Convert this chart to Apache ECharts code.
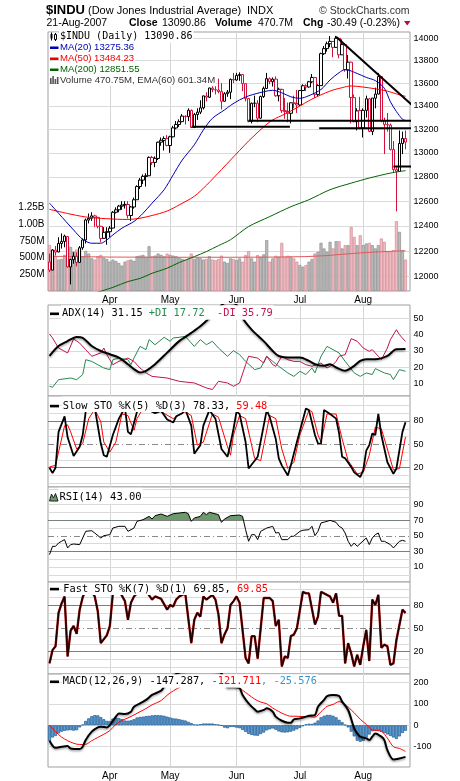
<!DOCTYPE html>
<html>
<head>
<meta charset="utf-8">
<script src="https://cdn.jsdelivr.net/npm/echarts@6/dist/echarts.min.js"></script>
<style>
  html, body { margin: 0; padding: 0; background: #fff; }
  #chart { width: 460px; height: 781px; }
</style>
</head>
<body>
<div id="chart"></div>
<script>
// ---- data ----
const dates = [
  '2007-03-05','2007-03-06','2007-03-07','2007-03-08','2007-03-09','2007-03-12','2007-03-13','2007-03-14','2007-03-15','2007-03-16',
  '2007-03-19','2007-03-20','2007-03-21','2007-03-22','2007-03-23','2007-03-26','2007-03-27','2007-03-28','2007-03-29','2007-03-30',
  '2007-04-02','2007-04-03','2007-04-04','2007-04-05','2007-04-09','2007-04-10','2007-04-11','2007-04-12','2007-04-13','2007-04-16',
  '2007-04-17','2007-04-18','2007-04-19','2007-04-20','2007-04-23','2007-04-24','2007-04-25','2007-04-26','2007-04-27','2007-04-30',
  '2007-05-01','2007-05-02','2007-05-03','2007-05-04','2007-05-07','2007-05-08','2007-05-09','2007-05-10','2007-05-11','2007-05-14',
  '2007-05-15','2007-05-16','2007-05-17','2007-05-18','2007-05-21','2007-05-22','2007-05-23','2007-05-24','2007-05-25','2007-05-29',
  '2007-05-30','2007-05-31','2007-06-01','2007-06-04','2007-06-05','2007-06-06','2007-06-07','2007-06-08','2007-06-11','2007-06-12',
  '2007-06-13','2007-06-14','2007-06-15','2007-06-18','2007-06-19','2007-06-20','2007-06-21','2007-06-22','2007-06-25','2007-06-26',
  '2007-06-27','2007-06-28','2007-06-29','2007-07-02','2007-07-03','2007-07-05','2007-07-06','2007-07-09','2007-07-10','2007-07-11',
  '2007-07-12','2007-07-13','2007-07-16','2007-07-17','2007-07-18','2007-07-19','2007-07-20','2007-07-23','2007-07-24','2007-07-25',
  '2007-07-26','2007-07-27','2007-07-30','2007-07-31','2007-08-01','2007-08-02','2007-08-03','2007-08-06','2007-08-07','2007-08-08',
  '2007-08-09','2007-08-10','2007-08-13','2007-08-14','2007-08-15','2007-08-16','2007-08-17','2007-08-20','2007-08-21'
];
const monthIdx = [20, 40, 62, 83, 104];
const monthNames = ['Apr', 'May', 'Jun', 'Jul', 'Aug'];

const opens = [
  12114,12051,12207,12193,12260,12276,12315,12075,12133,12159,12111,12226,12288,12447,12461,12481,12469,12397,12301,12349,
  12354,12383,12510,12530,12560,12569,12573,12484,12553,12612,12720,12773,12803,12809,12961,12920,12953,13090,13105,13120,
  13062,13136,13211,13241,13265,13312,13308,13362,13215,13326,13347,13384,13487,13476,13556,13542,13539,13526,13441,13507,13520,13633,
  13627,13667,13676,13595,13465,13267,13424,13424,13295,13482,13553,13639,13612,13635,13489,13545,13360,13352,13337,13427,13422,
  13409,13535,13577,13566,13611,13649,13501,13578,13861,13907,13951,13971,13918,14000,13851,13943,13716,13785,13473,13265,13360,
  13211,13362,13462,13181,13468,13504,13657,13270,13240,13236,13028,12860,12845,13079,13121
];
const closes = [
  12050,12208,12192,12261,12276,12319,12076,12133,12160,12110,12226,12288,12448,12461,12481,12469,12397,12300,12349,12354,
  12382,12510,12530,12560,12569,12574,12485,12553,12612,12720,12773,12804,12809,12962,12919,12954,13090,13106,13121,13063,
  13136,13212,13241,13265,13313,13309,13363,13215,13326,13347,13384,13488,13477,13557,13543,13540,13526,13441,13507,13521,13633,13628,
  13668,13676,13595,13466,13267,13424,13425,13295,13482,13554,13639,13613,13635,13489,13546,13360,13352,13338,13428,13422,13409,
  13535,13577,13566,13612,13650,13502,13578,13862,13907,13951,13972,13918,14000,13851,13943,13717,13785,13474,13265,13358,13212,
  13362,13463,13182,13469,13504,13658,13271,13240,13237,13029,12861,12846,13079,13121,13090.86
];
const highs = [
  12180,12215,12240,12310,12340,12330,12320,12140,12190,12190,12240,12300,12460,12500,12510,12490,12470,12400,12390,12390,
  12400,12520,12550,12570,12600,12600,12600,12560,12630,12730,12790,12820,12830,12970,12975,12970,13095,13130,13140,13150,
  13145,13230,13270,13285,13330,13320,13380,13370,13340,13380,13450,13490,13520,13560,13600,13580,13640,13600,13520,13540,13640,13690,
  13690,13695,13680,13600,13470,13430,13490,13450,13490,13570,13690,13650,13650,13660,13560,13550,13470,13430,13430,13490,13540,
  13540,13590,13590,13620,13680,13650,13590,13870,13930,13970,14020,13975,14022,14001,13990,13950,13850,13790,13500,13380,13480,
  13380,13490,13470,13470,13560,13690,13657,13300,13340,13250,13100,12880,13190,13180,13190
];
const lows = [
  12035,12050,12165,12190,12220,12230,12070,11940,12100,12080,12110,12210,12260,12420,12440,12390,12380,12270,12300,12250,
  12310,12380,12500,12510,12530,12540,12460,12440,12540,12612,12700,12740,12720,12808,12900,12880,12940,13060,13020,13055,
  13000,13130,13200,13220,13260,13240,13270,13210,13210,13280,13330,13370,13440,13470,13520,13500,13510,13370,13440,13480,13460,13600,
  13620,13620,13530,13440,13260,13250,13390,13260,13290,13470,13550,13590,13570,13480,13440,13340,13290,13260,13250,13380,13340,
  13400,13530,13530,13560,13600,13470,13480,13577,13850,13880,13920,13830,13915,13820,13850,13700,13640,13250,13260,13190,13200,
  13130,13300,13175,13150,13380,13500,13260,12990,13180,13020,12840,12517,12840,12990,13030
];
// volume in millions
const volume = [
  690,620,520,470,480,540,720,660,590,620, 640,520,600,560,490,470,520,540,500,480,
  440,470,450,420,380,440,460,470,450,520, 530,540,510,670,520,530,560,540,520,560,
  540,530,520,500,480,470,480,560,480,500, 490,470,480,520,470,460,480,530,440,420,
  488,478,463,488,439,538,597,488,439,538, 513,548,761,439,488,528,513,721,513,528,
  513,488,439,389,364,389,439,478,562,587, 721,637,587,736,637,746,746,637,686,686,
  958,810,686,835,686,711,721,686,637,686, 786,736,587,587,612,1045,885,612,470.75
];
const volEma = [[0,520],[20,508],[40,505],[60,505],[75,508],[85,515],[92,530],[97,550],[103,570],[110,588],[114,596],[118,601.34]];

const ma20 = [[0,12584],[3,12502],[8,12367],[11,12293],[14,12262],[17,12262],[19,12288],[21,12328],[24,12382],[28,12436],[31,12502],
  [34,12584],[38,12694],[41,12817],[44,12940],[48,13068],[51,13194],[54,13294],[58,13366],[60,13405],[63,13453],[66,13488],[71,13524],
  [74,13537],[77,13515],[80,13480],[83,13467],[86,13490],[90,13544],[93,13628],[96,13692],[98,13720],[102,13685],[105,13650],[108,13622],
  [111,13555],[113,13437],[115,13352],[117,13286],[118,13275.36]];
const ma50 = [[0,12534],[6,12500],[12,12472],[19,12458],[26,12452],[30,12462],[34,12484],[39,12520],[43,12570],[48,12640],[52,12730],
  [57,12860],[60,12940],[63,13020],[66,13100],[71,13220],[74,13280],[78,13330],[82,13385],[87,13460],[93,13530],[97,13560],[100,13575],
  [104,13565],[108,13550],[112,13530],[115,13505],[118,13484.23]];
const ma200 = [[15,11872],[21,11917],[26,11962],[30,11986],[34,12026],[39,12066],[43,12110],[48,12156],[52,12196],[56,12243],[60,12290],
  [66,12395],[73,12475],[80,12555],[86,12612],[93,12694],[100,12748],[106,12790],[113,12831],[118,12851.55]];
const trendLines = [
  [[95, 14014], [124.5, 13307]],
  [[65.9, 13273], [120.6, 13273]],
  [[47.1, 13222], [79.7, 13222]],
  [[89.4, 13209], [125, 13209]],
  [[114, 12885], [125, 12885]]
];
const priceTicks = [12000, 12200, 12400, 12600, 12800, 13000, 13200, 13400, 13600, 13800, 14000];

const adx = [[0,27],[3,33],[6,36],[9,38.5],[11,38],[14,33],[17,30],[20,28],[23,26],[26,22],[28,19],[30,17],[32,18],[35,22],[39,29],
  [43,36],[47,41],[50,45],[53,50],[56,56],[59,60],[62,58],[64,50],[67,43],[71,36],[74,30],[76,27],[80,26],[83,26],[86,24],[88,22],
  [91,21],[93,22],[95,20],[98,18],[101,21],[103,24],[105,25],[108,25],[112,27],[115,31],[118,31.15]];
const diPlus = [[0,8.6],[1,8],[3,12.6],[7,13.6],[9,12.6],[11,15.7],[12,24.7],[14,23.7],[16,21.7],[18,19.7],[20,18.7],[21,24.7],[23,25.7],
  [26,24.7],[27,21.7],[28,25.7],[30,32.8],[32,30.8],[33,36.9],[35,33.8],[38,38.3],[40,35.9],[41,37.9],[43,38.3],[45,38.9],[48,32.8],
  [50,36.9],[52,33.8],[54,35.9],[56,31.8],[59,26.8],[61,30.2],[63,27.8],[65,23.7],[68,18.7],[70,19.7],[72,26.8],[74,23.7],[76,20.7],
  [79,16.7],[81,14.6],[83,17.7],[85,15.7],[87,19.7],[88,16.7],[90,26.8],[92,32.8],[94,30.8],[96,28.8],[98,23.7],[101,16.7],[103,14.6],
  [105,16.7],[107,15.7],[108,19.3],[111,16.7],[113,15.7],[114,12.6],[116,18.7],[118,17.72]];
const diMinus = [[0,40.3],[1,37.9],[3,31.8],[6,28.8],[8,37.3],[10,34.8],[12,30.8],[14,26.8],[17,28.8],[18,31.8],[19,27.8],[21,21.7],
  [23,23.7],[26,25.7],[28,23.7],[30,19.7],[32,16.7],[34,14.6],[39,13.6],[43,11.6],[48,10.6],[52,7.6],[54,6.6],[56,11.6],[59,10.6],
  [61,8.6],[63,10.6],[65,21.7],[66,26.8],[69,25.7],[71,22.7],[72,26.8],[74,21.7],[75,20.7],[77,26.8],[79,24.7],[81,23.7],[83,23.7],
  [85,21.7],[87,20.7],[90,22.7],[92,19.7],[94,21.7],[95,23.7],[96,26.8],[98,27.8],[100,37.5],[102,35.9],[104,31.8],[106,29.8],
  [107,30.8],[109,26.8],[110,24.7],[112,31.8],[113,36.9],[115,42.9],[116,39.9],[118,35.79]];

const stoK = [[0,20],[1,13],[2,20],[3,66],[5,86],[6,59],[8,35],[10,47],[11,62],[12,92],[13,98],[15,97],[17,51],[18,36],[19,34],[21,62],
  [23,83],[25,97],[26,66],[27,63],[29,92],[31,97],[33,94],[35,90],[37,93],[39,82],[41,78],[42,86],[44,90],[45,95],[47,74],[48,38],
  [50,49],[51,74],[53,94],[55,83],[57,44],[59,34],[60,51],[61,70],[62,92],[63,89],[65,53],[66,19],[68,29],[69,34],[72,94],[73,85],
  [75,57],[76,32],[77,23],[79,10],[80,23],[82,53],[85,96],[86,94],[88,62],[89,51],[90,51],[91,94],[93,89],[95,83],[96,64],[97,34],
  [98,32],[100,21],[101,14],[103,8],[104,17],[105,42],[106,49],[107,64],[108,62],[109,89],[110,62],[112,27],[114,12],[115,19],[117,66],[118,78.33]];
const stoD = [[0,21],[2,23],[5,74],[6,75],[7,66],[9,44],[11,51],[13,83],[15,95],[17,79],[18,53],[20,40],[22,53],[24,89],[26,87],[28,68],
  [29,83],[31,96],[37,92],[41,83],[45,92],[47,87],[49,49],[51,53],[54,89],[56,85],[59,47],[60,36],[61,62],[63,87],[65,83],[68,32],
  [70,29],[73,87],[75,83],[77,44],[79,19],[81,27],[83,62],[86,94],[87,92],[89,62],[90,53],[92,89],[95,89],[97,57],[99,29],[102,12],
  [104,14],[106,36],[108,72],[110,70],[112,44],[114,17],[116,19],[118,59.48]];

const rsi = [[0,25.8],[1,36.5],[2,36.5],[3,40.8],[4,43],[5,45.1],[6,34.4],[7,38.7],[8,39.5],[10,38.7],[11,47.2],[12,55.8],[14,56.6],
  [15,53.6],[17,47.2],[18,50.2],[20,51.5],[21,60],[23,62.2],[25,62.2],[26,55.8],[28,60],[29,68.6],[31,70.7],[33,75],[34,71.6],[35,75.9],
  [37,78],[39,75],[41,78.4],[43,79.3],[45,80.2],[46,78.4],[47,68.6],[48,72.9],[50,75],[51,80.2],[52,77.2],[53,80.2],[56,77.2],[57,67.3],
  [58,71.6],[60,75.9],[63,76.7],[64,75],[65,57.9],[66,43],[67,51.5],[68,51.5],[69,45.1],[70,55.8],[72,60],[74,62.2],[75,53.6],[76,54.3],
  [77,45.1],[79,45.1],[80,49.4],[81,49.4],[83,55.8],[84,57.1],[86,57.9],[87,62.2],[88,50.2],[89,55.8],[90,66.5],[92,68.6],[93,69.9],
  [95,67.3],[96,62.2],[97,60],[98,53.6],[99,43],[100,36.5],[101,40.8],[102,36.5],[105,47.2],[106,38.7],[107,47.2],[108,51.5],[109,53.6],
  [110,43],[111,43],[113,38.7],[114,34.4],[116,43],[117,44.2],[118,43]];

const fastK = [[0,5],[1,22],[2,27],[3,70],[4,82],[5,91],[6,14],[7,47],[8,53],[9,43],[10,74],[11,90],[12,99],[14,97],[15,91],[16,72],
  [17,31],[19,41],[20,53],[21,95],[23,99],[25,85],[26,61],[27,83],[28,91],[30,99],[32,98],[34,87],[35,91],[37,88],[39,74],[40,80],
  [41,78],[42,87],[43,91],[45,95],[47,31],[48,61],[49,70],[50,65],[51,91],[52,87],[54,93],[55,87],[56,68],[57,31],[58,42],[59,50],
  [60,80],[61,85],[62,91],[63,83],[65,12],[66,5],[67,40],[68,40],[69,11],[71,89],[73,89],[74,85],[75,53],[76,61],[77,1],[78,14],
  [79,12],[80,40],[81,42],[82,50],[84,97],[85,95],[86,95],[88,55],[89,65],[90,97],[91,95],[93,91],[94,83],[95,95],[96,66],[97,66],
  [98,5],[99,31],[100,18],[101,1],[102,16],[103,3],[104,27],[105,48],[106,8],[107,87],[108,80],[109,93],[110,25],[111,29],[112,27],
  [113,3],[114,5],[115,35],[117,74],[118,69.85]];

const macd = [[0,-72],[2,-105],[4,-100],[6,-97],[7,-108],[10,-111],[11,-100],[12,-69],[14,-30],[16,-10],[17,-7],[19,-10],[20,1],[22,40],
  [23,55],[25,52],[27,63],[28,86],[30,102],[32,118],[34,141],[37,161],[38,180],[39,198],[41,230],[44,250],[50,262],[54,258],[57,242],
  [59,177],[61,177],[63,172],[64,141],[66,102],[68,74],[69,63],[71,71],[72,79],[74,63],[75,40],[77,21],[79,12],[80,12],[81,27],[83,32],
  [85,40],[86,44],[88,48],[89,86],[91,118],[92,136],[94,141],[96,136],[97,110],[99,71],[101,-15],[102,-38],[103,-53],[105,-61],[106,-69],
  [107,-53],[108,-38],[110,-53],[111,-69],[112,-116],[114,-159],[116,-155],[118,-147.287]];
const signal = [[0,1],[2,-30],[4,-55],[6,-72],[8,-84],[10,-90],[12,-89],[14,-72],[16,-57],[18,-42],[20,-25],[22,4],[24,22],[26,34],
  [28,48],[30,63],[32,78],[34,95],[37,115],[39,140],[41,160],[44,183],[47,200],[51,212],[55,215],[58,205],[61,190],[63,175],[64,163],
  [66,142],[68,122],[70,108],[72,100],[74,80],[76,64],[78,50],[80,42],[82,42],[84,40],[86,40],[88,38],[90,63],[92,88],[94,97],[96,110],
  [98,98],[99,85],[101,58],[103,28],[105,4],[107,-22],[110,-28],[112,-60],[114,-100],[116,-108],[118,-121.711]];
const hist = [
  -73,-57,-50,-38,-30,-26,-24,-23,-25,-23, -10,3,20,32,42,47,46,38,28,20,
  20,31,36,33,29,22,21,23,28,36, 39,40,43,44,46,47,47,46,44,40,
  36,32,31,28,25,22,16,10,4,2, 5,8,8,8,8,5,2,-2,-11,-14,
  -8,-8,-11,-14,-22,-31,-40,-45,-48,-49, -41,-34,-24,-19,-15,-21,-29,-33,-34,-33,
  -30,-25,-19,-12,-4,4,7,6,12,22, 37,44,48,48,44,37,25,14,2,-10,
  -30,-52,-72,-77,-73,-58,-43,-28,-23,-25, -31,-36,-43,-50,-57,-64,-52,-36,-25.576
];

// ---- chart ----
const RED = '#d3123c';
const GREEN_DI = '#268a50';
const RED_DI = '#c0144a';
const AXIS_FONT = 'Liberation Sans';
const MONO = '"DejaVu Sans Mono"';
const cats = dates.concat(['']);

const candleData = closes.map((c, i) => {
  const prev = i ? closes[i - 1] : opens[0];
  const col = c >= prev ? '#000' : RED;
  return {
    value: [opens[i], c, lows[i], highs[i]],
    itemStyle: { color: '#fff', color0: col, borderColor: col, borderColor0: col }
  };
});
const volData = volume.map((v, i) => {
  const prev = i ? closes[i - 1] : opens[0];
  const up = closes[i] >= prev;
  return {
    value: v,
    itemStyle: up ? { color: '#bcbcbc', borderColor: '#8e8e8e' } : { color: '#efbcc2', borderColor: '#d48b95' }
  };
});

const lineStyles = {
  light: { color: '#dadada', width: 1, type: 'solid' },
  dark: { color: '#7d7d7d', width: 1, type: 'solid' },
  dash: { color: '#8a8a8a', width: 1, type: [6, 3, 1, 3] }
};
function levels(list) {
  return {
    silent: true, symbol: ['none', 'none'], z: 1, animation: false,
    data: list.map(([v, kind, lab]) => ({
      yAxis: v,
      lineStyle: lineStyles[kind],
      label: { show: lab, position: 'end', formatter: String(v), distance: 3.5, color: '#000', fontSize: 9, fontFamily: AXIS_FONT }
    }))
  };
}
const stoLevels = [[0,'light',false],[10,'light',false],[30,'light',false],[40,'light',false],[60,'light',false],
  [70,'light',false],[90,'light',false],[100,'light',false],[20,'dark',true],[80,'dark',true],[50,'dash',true]];
const rsiLevels = [[0,'light',false],[10,'light',true],[20,'light',false],[40,'light',false],[60,'light',false],[80,'light',false],
  [90,'light',true],[100,'light',false],[110,'light',false],[30,'dark',true],[70,'dark',true],[50,'dash',true]];

const isMonth = (i) => monthIdx.indexOf(i) >= 0;
function catAxis(g, labels, grid) {
  return {
    type: 'category', gridIndex: g, data: cats, boundaryGap: true,
    axisLine: { show: false }, axisTick: { show: false },
    axisLabel: labels ? {
      show: true, interval: isMonth, formatter: (v, i) => monthNames[monthIdx.indexOf(i)] || '',
      color: '#000', fontSize: 10, fontFamily: AXIS_FONT, margin: 4
    } : { show: false },
    splitLine: { show: grid !== false, interval: isMonth, alignWithLabel: true, lineStyle: { color: '#d6d6d6', width: 1 } }
  };
}
function valAxis(g, min, max) {
  return { type: 'value', gridIndex: g, min, max, show: false, splitLine: { show: false } };
}
const gridBase = { left: 48, width: 362, show: true, borderColor: '#9f9f9f', borderWidth: 1, backgroundColor: '#fff' };

function pl(name, data, x, y, color, width, extra) {
  return Object.assign({
    name, type: 'line', xAxisIndex: x, yAxisIndex: y, data, showSymbol: false, symbol: 'none',
    lineStyle: { color, width }, itemStyle: { color }, z: 3, animation: false
  }, extra || {});
}
const shadow = { shadowColor: 'rgba(0,0,0,0.35)', shadowBlur: 2, shadowOffsetY: 1.5 };

// ---- texts ----
const G = [];
function addText(x, y, text, font, fill, bg) {
  const st = { x, y, text, font, fill, verticalAlign: 'middle', align: 'left' };
  if (bg) { st.backgroundColor = '#fff'; st.padding = [1, 1, 1, 1]; }
  G.push({ type: 'text', z: 100, style: st });
}
function addRich(x, y, text, font, rich, padTop) {
  // extra top padding lets the white box reach the panel border; y is shifted to keep the text in place
  G.push({ type: 'text', z: 100, style: {
    x, y: y - padTop / 2, text, font, rich, verticalAlign: 'middle', backgroundColor: '#fff', padding: [1 + padTop, 1, 1, 1]
  } });
}
function addRect(x, y, w, h, fill, stroke) {
  G.push({ type: 'rect', z: 101, shape: { x, y, width: w, height: h }, style: { fill, stroke: stroke || null, lineWidth: 1 } });
}

addText(46, 10.5, '$INDU', 'bold 13px "Liberation Sans"', '#000');
addText(88, 11, '(Dow Jones Industrial Average)', '11px "Liberation Sans"', '#000');
addText(247, 11, 'INDX', '11px "Liberation Sans"', '#000');
addText(319, 11, '\u00a9 StockCharts.com', '10.5px "Liberation Sans"', '#333');
addText(46.5, 23.5, '21-Aug-2007', '10.5px "Liberation Sans"', '#000');
addText(129, 23.5, 'Close', 'bold 10.5px "Liberation Sans"', '#000');
addText(162, 23.5, '13090.86', '10.5px "Liberation Sans"', '#000');
addText(215, 23.5, 'Volume', 'bold 10.5px "Liberation Sans"', '#000');
addText(258, 23.5, '470.7M', '10.5px "Liberation Sans"', '#000');
addText(303, 23.5, 'Chg', 'bold 10.5px "Liberation Sans"', '#000');
addText(327, 23.5, '-30.49 (-0.23%)', '10.5px "Liberation Sans"', '#000');
G.push({ type: 'polygon', z: 100, shape: { points: [[404, 21], [410.5, 21], [407.2, 25.5]] }, style: { fill: '#b0103a' } });

// main legend
addText(59, 36.7, '$INDU (Daily) 13090.86', '10px ' + MONO, '#000', true);
addRect(49.5, 32.5, 8.5, 8, '#fff');
G.push({ type: 'line', z: 102, shape: { x1: 51.5, y1: 32.5, x2: 51.5, y2: 40.5 }, style: { stroke: '#000', lineWidth: 1 } });
addRect(50.5, 34, 2, 4.5, '#000');
G.push({ type: 'line', z: 102, shape: { x1: 55.5, y1: 33, x2: 55.5, y2: 41 }, style: { stroke: '#000', lineWidth: 1 } });
G.push({ type: 'rect', z: 102, shape: { x: 54.5, y: 34.5, width: 2, height: 5 }, style: { fill: '#fff', stroke: '#000', lineWidth: 1 } });
const maLegend = [['MA(20) 13275.36', '#0000b4', 47.7], ['MA(50) 13484.23', '#ee0000', 58.7], ['MA(200) 12851.55', '#006400', 69.7]];
maLegend.forEach(([t, c, y]) => {
  addText(59, y, t, '9.6px "Liberation Sans"', c, true);
  addRect(50, y - 1.2, 8.5, 2.5, c);
});
addText(59, 80.3, 'Volume 470.75M, EMA(60) 601.34M', '9.6px "Liberation Sans"', '#333', true);
addRect(50, 78, 1.6, 6, '#555'); addRect(52.3, 76, 1.6, 8, '#555'); addRect(54.6, 79, 1.6, 5, '#555'); addRect(56.9, 77, 1.6, 7, '#555');

// indicator legends
addRich(61, 313.7, '{k|ADX(14) 31.15 }{g|+DI 17.72  }{r|-DI 35.79}', '10.3px ' + MONO,
  { k: { fill: '#000' }, g: { fill: GREEN_DI }, r: { fill: RED_DI } }, 2.5);
addRect(50, 312.5, 9, 2.6, '#000');
addRich(61.7, 406, '{k|Slow STO %K(5) %D(3) 78.33, }{r|59.48}', '10.3px ' + MONO, { k: { fill: '#000' }, r: { fill: '#ff0000' } }, 3.5);
addRect(50, 404.8, 9, 2.6, '#000');
addRich(58.5, 497.3, '{k|RSI(14) 43.00}', '10.5px ' + MONO, { k: { fill: '#000' } }, 3);
G.push({ type: 'polygon', z: 101, shape: { points: [[49.5, 501], [51.5, 494], [53.5, 498], [55.5, 493.5], [58, 501]] },
  style: { fill: '#6b9a6b', stroke: '#222', lineWidth: 1 } });
addRich(62.3, 589, '{k|Fast STO %K(7) %D(1) 69.85, }{r|69.85}', '10.3px ' + MONO, { k: { fill: '#000' }, r: { fill: '#ff0000' } }, 0);
addRect(50, 587.8, 9, 2.6, '#000');
addRich(61.7, 681.7, '{k|MACD(12,26,9) -147.287, }{r|-121.711}{b|, -25.576}', '10.3px ' + MONO,
  { k: { fill: '#000' }, r: { fill: '#ff0000' }, b: { fill: '#3796cc' } }, 1.5);
addRect(50, 680.5, 9, 2.6, '#000');

const option = {
  animation: false,
  backgroundColor: '#fff',
  grid: [
    Object.assign({ top: 32, height: 259 }, gridBase),
    Object.assign({ top: 305, height: 91 }, gridBase),
    Object.assign({ top: 396, height: 91 }, gridBase),
    Object.assign({ top: 487, height: 95 }, gridBase),
    { left: 48, width: 362, top: 487, height: 33.28, show: false },
    Object.assign({ top: 582, height: 92 }, gridBase),
    Object.assign({ top: 674, height: 93 }, gridBase)
  ],
  xAxis: [
    catAxis(0, true),
    { type: 'value', gridIndex: 0, min: -0.5, max: 119.5, show: false, splitLine: { show: false } },
    catAxis(1, false),
    catAxis(2, false),
    catAxis(3, false),
    catAxis(4, false, false),
    catAxis(5, false),
    catAxis(6, true)
  ],
  yAxis: [
    { type: 'log', logBase: 10, gridIndex: 0, min: 11889, max: 14057, show: false, splitLine: { show: false } },
    {
      type: 'value', gridIndex: 0, position: 'left', min: 0, max: 3877, interval: 250,
      axisLine: { show: false }, axisTick: { show: false }, splitLine: { show: false },
      axisLabel: {
        margin: 3.5, color: '#000', fontSize: 10, fontFamily: AXIS_FONT, padding: [0, 0, 5, 0],
        formatter: (v) => (v === 0 || v > 1250) ? '' : (v >= 1000 ? (v / 1000).toFixed(2) + 'B' : v + 'M')
      }
    },
    valAxis(1, 2.7, 57.9),
    valAxis(2, -4.8, 112.1),
    valAxis(3, -9.3, 112.7),
    valAxis(4, 70, 112.7),
    valAxis(5, -8.7, 109.6),
    valAxis(6, -194.5, 238.7)
  ],
  graphic: { elements: G },
  series: [
    {
      type: 'bar', xAxisIndex: 0, yAxisIndex: 1, data: volData, barCategoryGap: '0%', z: 2,
      itemStyle: { borderWidth: 0.7 }
    },
    pl('volEma', volEma, 0, 1, '#e05a5a', 1, { z: 2 }),
    {
      type: 'candlestick', xAxisIndex: 0, yAxisIndex: 0, data: candleData, barWidth: 3, z: 4,
      markLine: levels(priceTicks.map((v) => [v, 'light', true]))
    },
    pl('ma200', ma200, 0, 0, '#006400', 1, { smooth: 0.3, z: 5 }),
    pl('ma50', ma50, 0, 0, '#ff0000', 1, { smooth: 0.3, z: 5 }),
    pl('ma20', ma20, 0, 0, '#0000b4', 1, { smooth: 0.3, z: 5 }),
    ...trendLines.map((t, k) => pl('trend' + k, t, 1, 0, '#000', 2, { clip: false, z: 6 })),

    pl('+DI', diPlus, 2, 2, GREEN_DI, 1, { z: 3 }),
    pl('-DI', diMinus, 2, 2, RED_DI, 1, { z: 3 }),
    pl('ADX', adx, 2, 2, '#000', 2, {
      smooth: 0.3, z: 4, lineStyle: Object.assign({ color: '#000', width: 2 }, shadow),
      markLine: levels([[10,'light',true],[20,'light',true],[30,'light',true],[40,'light',true],[50,'light',true]])
    }),

    pl('%D', stoD, 3, 3, '#ff0000', 1, { z: 3 }),
    pl('%K', stoK, 3, 3, '#000', 1.8, { z: 4, markLine: levels(stoLevels) }),

    pl('rsiFill', rsi, 5, 5, '#000', 0, { z: 2, lineStyle: { width: 0, opacity: 0 }, areaStyle: { color: '#6b9a6b', opacity: 1, origin: 'start' } }),
    pl('RSI', rsi, 4, 4, '#000', 1, { z: 4, markLine: levels(rsiLevels) }),

    pl('fastD', fastK, 6, 6, '#b01010', 2.4, { z: 3 }),
    pl('fastK', fastK, 6, 6, '#1a0000', 1.5, { z: 4, markLine: levels(stoLevels) }),

    {
      type: 'bar', xAxisIndex: 7, yAxisIndex: 7, data: hist, barCategoryGap: '0%', z: 2,
      itemStyle: { color: '#5b9bd2', borderColor: '#1f5a90', borderWidth: 0.7 },
      markLine: levels([[200,'light',true],[100,'light',true],[0,'light',true],[-100,'light',true]])
    },
    pl('signal', signal, 7, 7, '#ff0000', 1, { smooth: 0.3, z: 3 }),
    pl('MACD', macd, 7, 7, '#000', 2, { smooth: 0.3, z: 4, lineStyle: Object.assign({ color: '#000', width: 2 }, shadow) })
  ]
};

const chart = echarts.init(document.getElementById('chart'));
chart.setOption(option);
window.addEventListener('resize', () => chart.resize());
</script>
</body>
</html>
